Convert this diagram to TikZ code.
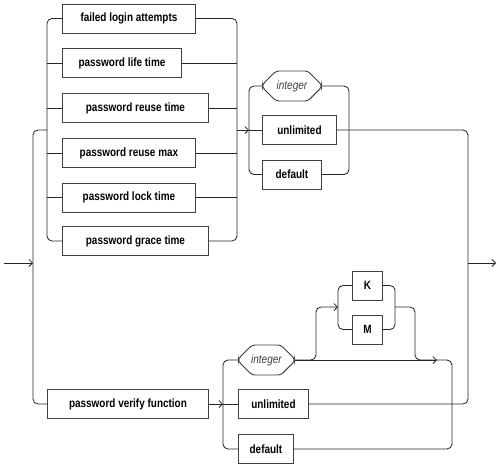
\documentclass[tikz,border=0pt]{standalone}
\usepackage{fontspec}
\setmainfont{Liberation Sans}[FakeStretch=0.83]
\usetikzlibrary{arrows.meta, shapes.misc, positioning}

\tikzset{
	kwbox/.style={draw=black!75, line width=0.9pt, fill=white, minimum height=29, minimum width=#1, inner sep=0pt, anchor=west, font=\fontsize{12}{14}\selectfont\bfseries}
}
\tikzset{
	varbox/.style={chamfered rectangle, chamfered rectangle xsep=6pt, chamfered rectangle ysep=8pt, rounded corners=3pt, draw=black!75, line width=0.9pt, fill=white, minimum height=30, minimum width=#1, inner sep=0pt, anchor=west, font=\fontsize{12}{14}\selectfont\itshape, text=black!75}
}
\tikzset{
	rail/.style={draw=black!85, line width=0.85pt, rounded corners=5}
}
\tikzset{
	arr/.style={rail, -{Straight Barb[length=3.5pt,width=7pt]}}
}

\begin{document}
\begin{tikzpicture}[x=1pt, y=-1pt]
\useasboundingbox (0,0) rectangle (500,469);

% rail points
\coordinate (start) at (4,263);
\coordinate (entry) at (33,263);
\coordinate (aL) at (47,130);
\coordinate (aR) at (237,130);
\coordinate (bL) at (249,130);
\coordinate (bR) at (349,130);
\coordinate (exit) at (468,263);
\coordinate (stop) at (496,263);
\coordinate (cL) at (223,404);
\coordinate (cR) at (452,404);
\coordinate (cArr) at (437,360);
\coordinate (kmUp) at (316,330);
\coordinate (kmIn) at (338,307);
\coordinate (kmOut) at (395,307);
\coordinate (kmDown) at (415,340);

% parameters
\node[kwbox=133] (fla) at (62,18.5) {failed login attempts};
\node[kwbox=119] (plt) at (62,63) {password life time};
\node[kwbox=146] (prt) at (62,108) {password reuse time};
\node[kwbox=133] (prm) at (62,153) {password reuse max};
\node[kwbox=133] (plk) at (62,197.5) {password lock time};
\node[kwbox=146] (pgt) at (62,241) {password grace time};
\node[kwbox=161] (pvf) at (47,404) {password verify function};

% values
\node[varbox=59] (intA) at (262,86) {integer};
\node[kwbox=74] (unlA) at (262,130) {unlimited};
\node[kwbox=59] (defA) at (262,174.5) {default};

\node[varbox=56] (intB) at (238,360) {integer};
\node[kwbox=70] (unlB) at (238,404) {unlimited};
\node[kwbox=55] (defB) at (238,449) {default};

\node[kwbox=30] (K) at (352,285.5) {K};
\node[kwbox=30] (M) at (352,329.5) {M};

% main line
\draw[arr] (start) -- (entry);
\draw[rail] (pvf.west) -| (entry) |- (aL);
\draw[rail] (fla.west) -| (aL) |- (pgt.west);
\draw[rail] (fla.east) -| (aR) |- (pgt.east);
\foreach \n in {plt,prt,prm,plk}
	\draw[rail] (\n.west -| aL) -- (\n.west) (\n.east) -- (\n.east -| aR);
\draw[arr] (aR) -- (bL);
\draw[rail] (intA.west) -| (bL) |- (defA.west);
\draw[rail] (bL) -- (unlA.west);
\draw[rail] (intA.east) -| (bR) |- (defA.east);
\draw[rail] (unlA.east) -| (exit) |- (unlB.east);
\draw[arr] (exit) -- (stop);

% verify function
\draw[arr] (pvf.east) -- (cL);
\draw[rail] (intB.west) -| (cL) |- (defB.west);
\draw[rail] (cL) -- (unlB.west);
\draw[arr] (intB.east) -- (cArr);
\draw[rail] (cArr) -| (cR) |- (defB.east);
\draw[arr] (intB.east) -| (kmUp) |- (kmIn);
\draw[rail] (K.west) -| (kmIn) |- (M.west);
\draw[rail] (K.east) -| (kmOut) |- (M.east);
\draw[rail] (kmOut) -| (kmDown) |- (cArr);

\end{tikzpicture}
\end{document}
